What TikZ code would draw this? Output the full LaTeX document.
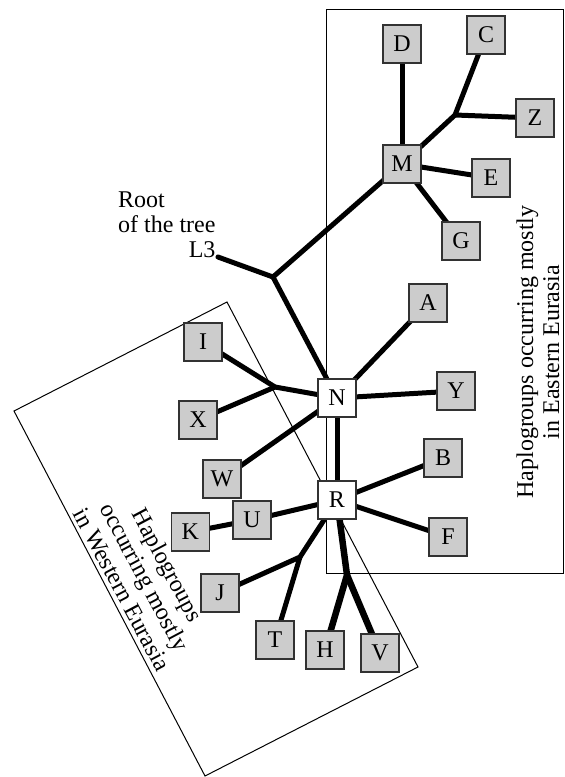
\documentclass[tikz,border=0pt]{standalone}
\usepackage{fontspec}
\setmainfont{Liberation Serif}
\usetikzlibrary{positioning, calc, backgrounds}
\definecolor{hapFill}{RGB}{204, 204, 204}
\definecolor{hapEdge}{RGB}{50, 50, 50}
\tikzstyle{hap} = [rectangle, minimum width=38pt, minimum height=38pt, inner sep=0pt, draw=hapEdge, line width=1.4pt, fill=hapFill, text=black, font=\fontsize{24}{27}\selectfont]
\tikzstyle{hub} = [hap, fill=white]
\tikzstyle{branch} = [line width=5pt, line cap=round, line join=round]
\tikzstyle{heavy} = [line width=6.5pt, line cap=round]
\tikzstyle{region} = [line width=1pt]
\tikzstyle{areatext} = [inner sep=0pt, align=center, font=\fontsize{24}{26}\selectfont]

\begin{document}
\begin{tikzpicture}[x=1pt, y=-1pt]
\useasboundingbox (0,0) rectangle (565,777);

\node (M) [hap] at (402,164) {M};
\node (D) [hap] at (402,44) {D};
\node (C) [hap] at (486,35) {C};
\node (Z) [hap] at (535,118) {Z};
\node (E) [hap] at (491,178) {E};
\node (G) [hap] at (461,241) {G};

\node (N) [hub] at (337,398) {N};
\node (R) [hub, yshift=-102pt] at (N) {R};
\node (A) [hap] at (428,303) {A};
\node (Y) [hap] at (456,391) {Y};
\node (B) [hap] at (443,458) {B};
\node (F) [hap] at (448,537) {F};

\node (I) [hap] at (203,342) {I};
\node (X) [hap] at (198,420) {X};
\node (W) [hap] at (222,479) {W};
\node (U) [hap] at (252,520) {U};
\node (K) [hap, anchor=east, xshift=-42pt, yshift=-12pt] at (U.center) {K};
\node (J) [hap] at (220,593) {J};
\node (T) [hap] at (275,640) {T};
\node (H) [hap] at (325,650) {H};
\node (V) [hap] at (380,653) {V};

\coordinate (czJoin) at (455,115);
\coordinate (rootJoin) at (273,277);
\coordinate (rootEnd) at (218,257);
\coordinate (ixJoin) at (275,387);
\coordinate (jtJoin) at (300,557);
\coordinate (hvJoin) at (347,575);

\node (root) [anchor=base west, inner sep=0pt, font=\fontsize{24}{25}\selectfont] at (118,207)
  {\begin{tabular}[t]{@{}l@{}}Root\\of the tree\\\multicolumn{1}{@{}r@{}}{L3}\end{tabular}};

\node (east) [areatext, rotate=90] at (538,352) {Haplogroups occurring mostly\\in Eastern Eurasia};
\node (west) [areatext, rotate=-62] at (145,577) {Haplogroups\\occurring mostly\\in Western Eurasia};

\begin{scope}[on background layer]
\draw [region] (326,9) rectangle (563,573);
\draw [region] (227,302) -- (418,667) -- (205,776) -- (14,411) -- cycle;

\draw [branch] (rootEnd) -- (rootJoin) -- (M.center);
\draw [branch] (rootJoin) -- (N.center);
\draw [branch] (M.center) -- (D.center);
\draw [branch] (M.center) -- (czJoin) -- (C.center);
\draw [branch] (czJoin) -- (Z.center);
\draw [branch] (M.center) -- (E.center);
\draw [branch] (M.center) -- (G.center);

\draw [branch] (N.center) -- (A.center);
\draw [branch] (N.center) -- (Y.center);
\draw [branch] (N.center) -- (ixJoin) -- (I.center);
\draw [branch] (ixJoin) -- (X.center);
\draw [branch] (N.center) -- (W.center);
\draw [branch] (N.center) -- (R.center);

\draw [branch] (R.center) -- (B.center);
\draw [branch] (R.center) -- (F.center);
\draw [branch] (R.center) -- (U.center) -- (K.center);
\draw [branch] (R.center) -- (jtJoin) -- (J.center);
\draw [branch] (jtJoin) -- (T.center);
\draw [heavy] (R.center) -- (hvJoin) -- (H.center);
\draw [heavy] (hvJoin) -- (V.center);
\end{scope}

\end{tikzpicture}
\end{document}
